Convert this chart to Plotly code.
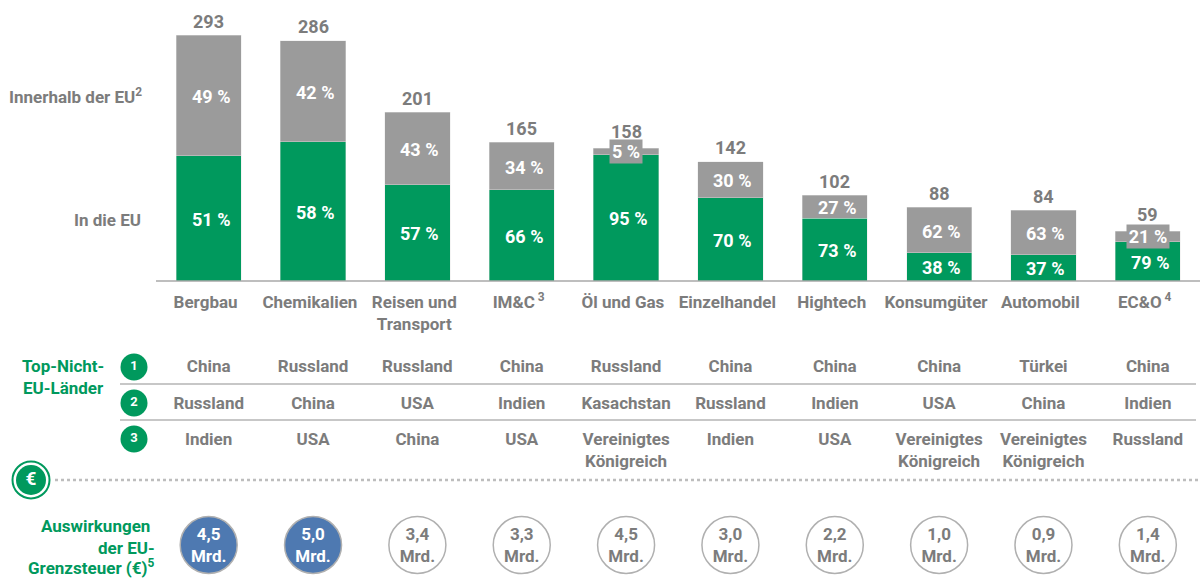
import plotly.graph_objects as go

# Sector data
sectors = ["Bergbau", "Chemikalien", "Reisen und<br>Transport", "IM&C<sup> 3</sup>", "Öl und Gas",
           "Einzelhandel", "Hightech", "Konsumgüter", "Automobil", "EC&O<sup> 4</sup>"]
totals = [293, 286, 201, 165, 158, 142, 102, 88, 84, 59]
share_into_eu = [51, 58, 57, 66, 95, 70, 73, 38, 37, 79]
share_within_eu = [49, 42, 43, 34, 5, 30, 27, 62, 63, 21]
country_1 = ["China", "Russland", "Russland", "China", "Russland", "China", "China", "China", "Türkei", "China"]
country_2 = ["Russland", "China", "USA", "Indien", "Kasachstan", "Russland", "Indien", "USA", "China", "Indien"]
country_3 = ["Indien", "USA", "China", "USA", "Vereinigtes<br>Königreich", "Indien", "USA",
             "Vereinigtes<br>Königreich", "Vereinigtes<br>Königreich", "Russland"]
impact_bn = [4.5, 5.0, 3.4, 3.3, 4.5, 3.0, 2.2, 1.0, 0.9, 1.4]
highlighted = [True, True, False, False, False, False, False, False, False, False]

GREEN = "#00995d"
GREY_BAR = "#9b9b9b"
GREY_TEXT = "#7c7c7c"
BLUE = "#4e79b1"
RULE = "#b5b5b5"
FONT = "Roboto"

idx = list(range(len(sectors)))
into_eu = [t * s / 100 for t, s in zip(totals, share_into_eu)]
within_eu = [t * s / 100 for t, s in zip(totals, share_within_eu)]


def comma(v):
    return f"{v:.1f}".replace(".", ",")


fig = go.Figure()

# Stacked bars
fig.add_bar(x=idx, y=into_eu, marker=dict(color=GREEN, line=dict(color="#e4e4e4", width=0.4)), width=0.625)
fig.add_bar(x=idx, y=within_eu, marker=dict(color=GREY_BAR, line=dict(color="#e4e4e4", width=0.4)), width=0.625)

# Country rows, on the page-height axis
for row_top, names in zip((359, 396, 432), (country_1, country_2, country_3)):
    fig.add_scatter(x=idx, y=[row_top] * len(idx), yaxis="y2", mode="text", text=names,
                    textposition="bottom center",
                    textfont=dict(family=FONT, size=17, color=GREY_TEXT, weight="bold"))

# Impact bubbles, with their captions set slightly below the circle centre
fig.add_scatter(x=idx, y=[545] * len(idx), yaxis="y2", mode="markers",
                marker=dict(size=57, color=[BLUE if h else "white" for h in highlighted],
                            line=dict(color="#b0b0b0", width=1.5)))
fig.add_scatter(x=idx, y=[547] * len(idx), yaxis="y2", mode="text",
                text=[f"{comma(v)}<br>Mrd." for v in impact_bn],
                textfont=dict(family=FONT, size=17, weight="bold",
                              color=["white" if h else GREY_TEXT for h in highlighted]))

# Rank badges
fig.add_scatter(x=[134] * 3, y=[367, 403, 439], xaxis="x2", yaxis="y2", mode="markers+text",
                marker=dict(size=27, color=GREEN), text=["1", "2", "3"],
                textfont=dict(family=FONT, size=13, color="white", weight="bold"))

# Euro badge
fig.add_scatter(x=[31], y=[480], xaxis="x2", yaxis="y2", mode="markers",
                marker=dict(size=37, color="white", line=dict(color=GREEN, width=2)))
fig.add_scatter(x=[31], y=[480], xaxis="x2", yaxis="y2", mode="markers+text",
                marker=dict(size=30, color=GREEN), text=["€"],
                textfont=dict(family=FONT, size=19, color="white", weight="bold"))

annotations = []
for i in idx:
    # Totals above the bars; those over a plated label sit a little higher
    thin = within_eu[i] < 15
    annotations.append(dict(x=i, y=totals[i], text=str(totals[i]), showarrow=False, yshift=17 if thin else 14,
                            font=dict(family=FONT, size=18, color=GREY_TEXT, weight="bold")))
    # Percent labels centred inside each segment; thin segments get a grey plate
    annotations.append(dict(x=i, y=into_eu[i] / 2, text=f"{share_into_eu[i]} %", showarrow=False, xshift=2, yshift=-1,
                            font=dict(family=FONT, size=18, color="white", weight="bold")))
    upper = dict(x=i, y=into_eu[i] + within_eu[i] / 2, text=f"{share_within_eu[i]} %", showarrow=False,
                 font=dict(family=FONT, size=18, color="white", weight="bold"))
    if thin:
        upper.update(bgcolor=GREY_BAR, borderpad=0, height=23, width=10 * len(upper["text"]) + 2, xshift=0)
    else:
        upper.update(xshift=2, yshift=-1)
    annotations.append(upper)


def page_label(x, y, text, color, anchor="right", size=17):
    annotations.append(dict(xref="x2", yref="y2", x=x, y=y, text=text, showarrow=False, xanchor=anchor,
                            font=dict(family=FONT, size=size, color=color, weight="bold")))


page_label(144, 96, "Innerhalb der EU<sup>2</sup>", GREY_TEXT)
page_label(143, 220, "In die EU", GREY_TEXT)
page_label(63, 366, "Top-Nicht-", GREEN, "center")
page_label(63, 388, "EU-Länder", GREEN, "center")
page_label(152, 526, "Auswirkungen", GREEN)
page_label(157, 548, "der EU-", GREEN)
page_label(157, 567, "Grenzsteuer (€)<sup>5</sup>", GREEN)

rules = [
    dict(type="line", xref="x2", yref="y2", x0=156, x1=1200, y0=281, y1=281, line=dict(color="#a8a8a8", width=1.5)),
    dict(type="line", xref="x2", yref="y2", x0=120, x1=1196, y0=384, y1=384, line=dict(color=RULE, width=1.5)),
    dict(type="line", xref="x2", yref="y2", x0=120, x1=1196, y0=420, y1=420, line=dict(color=RULE, width=1.5)),
    dict(type="line", xref="x2", yref="y2", x0=55, x1=1200, y0=480, y1=480,
         line=dict(color="#bdbdbd", width=2.5, dash="dot")),
]

fig.update_layout(
    width=1200, height=578, margin=dict(l=0, r=0, t=0, b=0), barmode="stack", showlegend=False,
    paper_bgcolor="white", plot_bgcolor="rgba(0,0,0,0)", hovermode=False,
    xaxis=dict(range=[-2.0, 9.5], domain=[0, 1], tickmode="array", tickvals=[i - 0.03 for i in idx], ticktext=sectors,
               ticks="", showgrid=False, zeroline=False, showline=False, ticklabelstandoff=9,
               tickfont=dict(family=FONT, size=17, color=GREY_TEXT, weight="bold")),
    yaxis=dict(range=[0, 281 / 0.8396], domain=[297 / 578, 1], visible=False),
    xaxis2=dict(range=[0, 1200], overlaying="x", visible=False, anchor="y2"),
    yaxis2=dict(range=[578, 0], domain=[0, 1], visible=False, anchor="x"),
    annotations=annotations, shapes=rules,
)

fig.write_html("out.html", config=dict(displayModeBar=False))
